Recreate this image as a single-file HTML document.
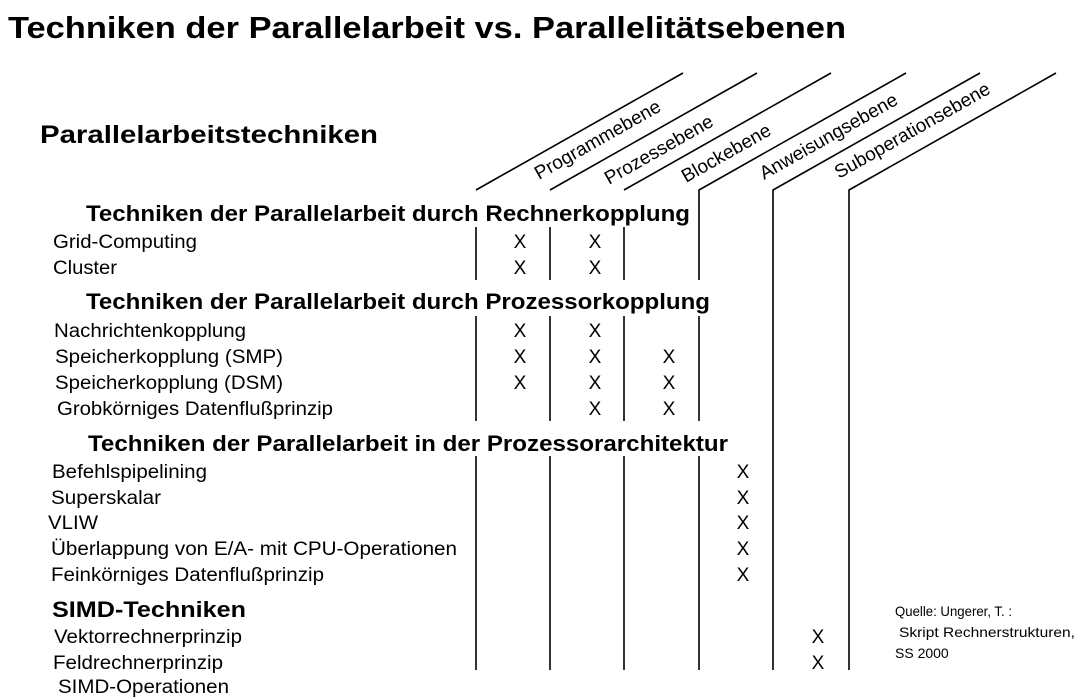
<!DOCTYPE html>
<html><head><meta charset="utf-8"><style>
html,body{margin:0;padding:0;background:#fff;}
svg{display:block;}
text{font-family:"Liberation Sans",Arial,sans-serif;fill:#000;}
.b{font-weight:bold;}
</style></head><body>
<svg width="1077" height="697" viewBox="0 0 1077 697" xmlns="http://www.w3.org/2000/svg">
<text class="b" x="8" y="38" font-size="31" textLength="838" lengthAdjust="spacingAndGlyphs">Techniken der Parallelarbeit vs. Parallelitätsebenen</text>
<text class="b" x="40" y="143" font-size="25" textLength="338" lengthAdjust="spacingAndGlyphs">Parallelarbeitstechniken</text>

<g stroke="#000" stroke-width="1.6" fill="none">
<line x1="476" y1="190" x2="683" y2="73"/>
<line x1="550" y1="190" x2="757" y2="73"/>
<line x1="624" y1="190" x2="831" y2="73"/>
<polyline points="699,280 699,190 906,73"/>
<polyline points="773,670 773,190 980,73"/>
<polyline points="849,670 849,190 1056,73"/>
<line x1="476" y1="227" x2="476" y2="280"/>
<line x1="550" y1="227" x2="550" y2="280"/>
<line x1="624" y1="227" x2="624" y2="280"/>
<line x1="476" y1="316" x2="476" y2="421"/>
<line x1="550" y1="316" x2="550" y2="421"/>
<line x1="624" y1="316" x2="624" y2="421"/>
<line x1="699" y1="316" x2="699" y2="421"/>
<line x1="476" y1="456" x2="476" y2="670"/>
<line x1="550" y1="456" x2="550" y2="670"/>
<line x1="624" y1="456" x2="624" y2="670"/>
<line x1="699" y1="456" x2="699" y2="670"/>
</g>

<g font-size="19">
<text transform="translate(539,180) rotate(-29.5)">Programmebene</text>
<text transform="translate(609,185) rotate(-29.5)">Prozessebene</text>
<text transform="translate(686,183) rotate(-29.5)">Blockebene</text>
<text transform="translate(764,180) rotate(-29.5)">Anweisungsebene</text>
<text transform="translate(839,179) rotate(-29.5)">Suboperationsebene</text>
</g>

<g>
<text class="b" x="86" y="221" font-size="22" textLength="604" lengthAdjust="spacingAndGlyphs">Techniken der Parallelarbeit durch Rechnerkopplung</text>
<text class="b" x="86" y="309" font-size="22" textLength="624" lengthAdjust="spacingAndGlyphs">Techniken der Parallelarbeit durch Prozessorkopplung</text>
<text class="b" x="88" y="451" font-size="22" textLength="640" lengthAdjust="spacingAndGlyphs">Techniken der Parallelarbeit in der Prozessorarchitektur</text>
<text class="b" x="52" y="617" font-size="22" textLength="194" lengthAdjust="spacingAndGlyphs">SIMD-Techniken</text>
</g>

<g font-size="19">
<text x="53" y="248" textLength="144" lengthAdjust="spacingAndGlyphs">Grid-Computing</text>
<text x="53" y="274" textLength="64" lengthAdjust="spacingAndGlyphs">Cluster</text>
<text x="54" y="337" textLength="192" lengthAdjust="spacingAndGlyphs">Nachrichtenkopplung</text>
<text x="55" y="363" textLength="228" lengthAdjust="spacingAndGlyphs">Speicherkopplung (SMP)</text>
<text x="55" y="389" textLength="228" lengthAdjust="spacingAndGlyphs">Speicherkopplung (DSM)</text>
<text x="57" y="415" textLength="276" lengthAdjust="spacingAndGlyphs">Grobkörniges Datenflußprinzip</text>
<text x="52" y="478" textLength="155" lengthAdjust="spacingAndGlyphs">Befehlspipelining</text>
<text x="51" y="504" textLength="110" lengthAdjust="spacingAndGlyphs">Superskalar</text>
<text x="48" y="529" textLength="50" lengthAdjust="spacingAndGlyphs">VLIW</text>
<text x="51" y="555" textLength="406" lengthAdjust="spacingAndGlyphs">Überlappung von E/A- mit CPU-Operationen</text>
<text x="51" y="581" textLength="273" lengthAdjust="spacingAndGlyphs">Feinkörniges Datenflußprinzip</text>
<text x="54" y="643" textLength="188" lengthAdjust="spacingAndGlyphs">Vektorrechnerprinzip</text>
<text x="53" y="669" textLength="170" lengthAdjust="spacingAndGlyphs">Feldrechnerprinzip</text>
<text x="58" y="693" textLength="171" lengthAdjust="spacingAndGlyphs">SIMD-Operationen</text>
</g>

<g font-size="19" text-anchor="middle">
<text x="520" y="248">X</text><text x="595" y="248">X</text>
<text x="520" y="274">X</text><text x="595" y="274">X</text>
<text x="520" y="337">X</text><text x="595" y="337">X</text>
<text x="520" y="363">X</text><text x="595" y="363">X</text><text x="669" y="363">X</text>
<text x="520" y="389">X</text><text x="595" y="389">X</text><text x="669" y="389">X</text>
<text x="595" y="415">X</text><text x="669" y="415">X</text>
<text x="743" y="478">X</text>
<text x="743" y="504">X</text>
<text x="743" y="529">X</text>
<text x="743" y="555">X</text>
<text x="743" y="581">X</text>
<text x="818" y="643">X</text>
<text x="818" y="669">X</text>
</g>

<g font-size="14">
<text x="895" y="616" textLength="117" lengthAdjust="spacingAndGlyphs">Quelle: Ungerer, T. :</text>
<text x="899" y="637" textLength="176" lengthAdjust="spacingAndGlyphs">Skript Rechnerstrukturen,</text>
<text x="895" y="658">SS 2000</text>
</g>
</svg>
</body></html>
